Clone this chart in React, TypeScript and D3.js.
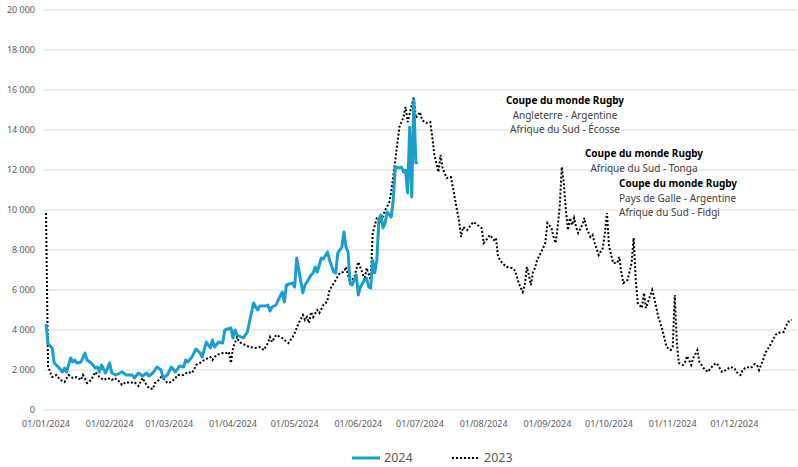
import React from 'react';
import * as d3 from 'd3';

// ---- Data (day offset from 1 Jan, value) ----
const days2024 = [0,1,3,4,6,8,9,10,12,13,14,15,17,19,20,22,24,25,26,27,29,31,32,34,36,37,39,42,43,45,47,49,50,52,54,56,57,59,61,63,65,67,68,69,71,73,75,76,77,78,80,81,82,84,86,87,90,91,92,93,96,98,101,103,104,107,108,109,110,112,113,115,116,117,120,121,122,125,126,127,129,130,131,132,134,135,137,138,140,141,142,144,145,146,147,148,149,151,152,153,155,156,157,158,159,160,161,162,163,164,165,166,168,169,170,172,173,174,175,176,177,178,179,180,181];
const values2024 = [4300,3300,3100,2350,2150,1900,2100,1900,2600,2400,2500,2350,2400,2850,2500,2350,2100,2150,1900,2250,1850,2350,1850,1750,1850,1900,1750,1750,1600,1850,1700,1850,1700,1850,2150,2000,1600,1750,2150,1900,2200,2150,2500,2400,2650,3050,2850,2650,3000,3400,3100,3500,3150,3400,3350,4000,4100,3600,4000,3750,3600,3900,5350,5000,5200,5200,5250,4950,5150,5250,5500,5900,5400,6250,6350,6150,7600,5850,6250,6400,6750,6850,7150,6900,7600,7550,7900,7500,6900,6850,7850,8150,8900,8150,7900,6350,6250,6750,5750,6150,6500,6600,6150,6100,7500,6850,7500,9500,9750,9100,9350,9900,9650,10500,12150,12100,12150,11900,12000,10850,14150,10650,15500,12350,12400];

const days2023 = [0,1,2,3,5,7,9,11,13,15,17,18,20,22,24,26,28,30,32,33,35,37,39,41,43,45,47,48,50,52,53,54,56,58,59,61,63,64,67,69,71,72,73,75,77,80,81,83,86,88,89,90,91,93,94,97,99,102,104,106,108,109,110,112,115,116,118,120,121,123,125,126,127,128,129,130,132,133,135,136,137,138,141,143,145,146,148,150,152,154,155,156,158,159,161,162,163,164,165,167,168,170,171,172,174,175,176,178,179,180,182,183,185,187,188,189,191,192,193,195,197,198,200,201,202,203,205,206,208,210,212,213,215,216,218,219,220,222,224,227,228,229,230,232,233,234,235,236,237,238,239,241,243,244,246,247,248,249,250,251,252,253,254,255,256,257,258,259,261,262,263,265,266,267,269,271,272,273,274,276,278,279,280,281,283,285,286,287,288,290,291,292,293,295,296,298,300,302,304,305,306,307,308,310,311,312,314,315,317,318,320,322,324,326,327,329,331,333,335,336,338,339,341,343,345,346,347,349,350,351,353,355,356,359,360,361,363];
const values2023 = [9850,2200,1900,1650,1750,1500,1400,1750,1600,1650,1500,1750,1350,1500,1900,1650,1500,1600,1500,1600,1500,1250,1400,1350,1400,1200,1600,1400,1100,1050,1350,1400,1650,1500,1350,1400,1600,1750,1750,1900,1850,2000,2250,2350,2500,2650,2500,2750,2850,2850,2900,2350,3100,3650,3400,3250,3150,3100,3150,3000,3350,3650,3400,3750,3600,3500,3350,3650,3850,4350,4750,4500,4650,4350,4900,4650,5000,4850,5250,5300,5500,6000,6500,6850,6900,7150,6350,6650,7400,6850,6500,7100,6500,8850,9600,9650,9350,9650,10000,10350,10900,12500,13350,14150,14650,15150,14400,15250,15650,14600,14900,14500,14350,14400,13650,12750,11900,12750,12100,11600,11650,11150,10000,9500,8650,9150,9000,9150,9400,9250,9100,8350,8600,8750,8500,8600,7650,7350,7150,7100,7000,6750,6350,5900,6250,7150,6750,6250,6900,7100,7500,7900,8350,9350,9100,8650,8350,9150,10150,12150,11350,10000,9000,9600,9250,9600,9150,8850,9250,9600,9100,8650,8750,8350,7750,8100,8850,9850,8200,7350,7350,7650,6900,6350,6500,7350,8600,6500,5350,5100,5850,5100,5400,6000,5600,4650,4000,3150,3000,3150,5750,3350,2350,2250,2400,2700,2250,2600,3000,2400,2100,1900,2150,2350,2250,1900,2000,2150,2100,1900,1750,2000,2150,2100,2300,2250,2000,2500,2850,3000,3350,3750,3850,3900,4150,4400,4500];

const yTickValues = [0,2000,4000,6000,8000,10000,12000,14000,16000,18000,20000];
const seriesNames = ['2024','2023'];

const annotations = [
  { lines: ['Coupe du monde Rugby','Angleterre - Argentine','Afrique du Sud - Écosse'] },
  { lines: ['Coupe du monde Rugby','Afrique du Sud - Tonga'] },
  { lines: ['Coupe du monde Rugby','Pays de Galle - Argentine','Afrique du Sud - Fidgi'] },
];

const W = 798, H = 467;
const start = new Date(2024, 0, 1);
const FONT = "'Noto Sans', 'Open Sans', sans-serif";
const GREY = '#595959';
const BLUE = '#1a9fc9';

export default function App() {
  const x = d3.scaleTime().domain([start, new Date(2024, 11, 31)]).range([46, 796]);
  const y = d3.scaleLinear().domain([0, 20000]).range([410, 10]);
  const monthTicks = d3.timeMonth.range(start, new Date(2024, 11, 2));
  const fmtDate = d3.timeFormat('%d/%m/%Y');
  const fmtY = (v: number) => d3.format(',')(v).replace(',', ' ');

  const line = d3.line<[number, number]>()
    .x(d => x(d3.timeDay.offset(start, d[0])))
    .y(d => y(d[1]));

  const data2024: [number, number][] = days2024.map((d, i) => [d, values2024[i]]);
  const data2023: [number, number][] = days2023.map((d, i) => [d, values2023[i]]);

  const annPos = [
    { x: 565, y: 104, anchor: 'middle' },
    { x: 644, y: 157, anchor: 'middle' },
    { x: 619, y: 187, anchor: 'start' },
  ];

  return (
    <svg width={W} height={H} style={{ position: 'absolute', left: 0, top: 0, background: '#fff' }} fontFamily={FONT}>
      <rect width={W} height={H} fill="#fff" />
      {yTickValues.map(v => (
        <g key={v}>
          <line x1={44} x2={797} y1={y(v)} y2={y(v)} stroke="#d9d9d9" strokeWidth={1} />
          <text x={35} y={y(v)} dy="0.35em" textAnchor="end" fontSize={9} fill={GREY}>{fmtY(v)}</text>
        </g>
      ))}
      {monthTicks.map(t => (
        <text key={+t} x={x(t)} y={427} textAnchor="middle" fontSize={9} fill={GREY}>{fmtDate(t)}</text>
      ))}
      <path d={line(data2023) || ''} fill="none" stroke="#000" strokeWidth={2} strokeDasharray="2 2" />
      <path d={line(data2024) || ''} fill="none" stroke={BLUE} strokeWidth={3} strokeLinejoin="round" />
      {annotations.map((a, i) => (
        <text key={i} x={annPos[i].x} y={annPos[i].y} textAnchor={annPos[i].anchor as any} fontSize={10} fill="#404040">
          {a.lines.map((l, j) => (
            <tspan key={j} x={annPos[i].x} dy={j === 0 ? 0 : 14.5} fontWeight={j === 0 ? 'bold' : 'normal'} fill={j === 0 ? '#000' : '#404040'}>{l}</tspan>
          ))}
        </text>
      ))}
      <g>
        <line x1={352} x2={380} y1={458} y2={458} stroke={BLUE} strokeWidth={3} />
        <text x={384} y={458} dy="0.35em" fontSize={12.5} fill={GREY}>{seriesNames[0]}</text>
        <line x1={452} x2={480} y1={458} y2={458} stroke="#000" strokeWidth={2} strokeDasharray="2 2" />
        <text x={484} y={458} dy="0.35em" fontSize={12.5} fill={GREY}>{seriesNames[1]}</text>
      </g>
    </svg>
  );
}
